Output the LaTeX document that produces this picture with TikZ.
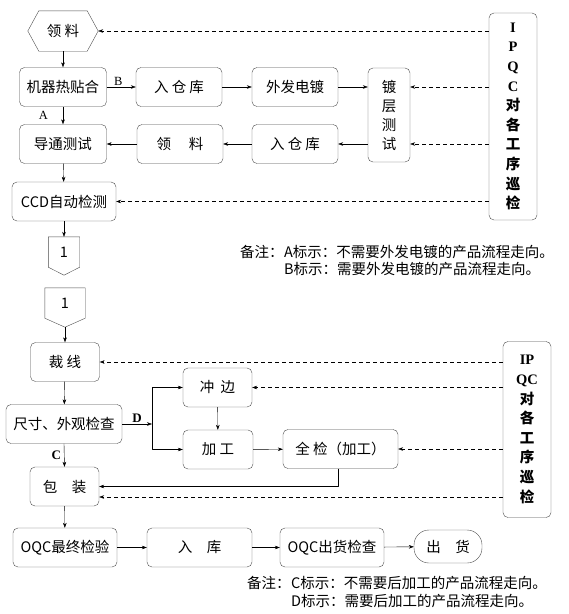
\documentclass[tikz,border=0pt]{standalone}
\usepackage{fontspec}
\newfontfamily\cjk{Noto Sans CJK SC}
\newfontfamily\serifl{Liberation Serif}
\usetikzlibrary{arrows.meta,calc}
\begin{document}
\begin{tikzpicture}[x=1pt, y=-1pt, font=\cjk\fontsize{14.5}{17}\selectfont, line join=round, >={Stealth[length=5pt,width=3.6pt]},
 box/.style={draw=black!70, rounded corners=5pt, inner sep=0pt, minimum height=39pt},
 qc/.style={->, dash pattern=on 4pt off 3pt},
 lbl/.style={font=\serifl\fontsize{12.5}{14}\selectfont, inner sep=1pt},
 lblb/.style={font=\serifl\bfseries\fontsize{13}{14}\selectfont, inner sep=1pt},
 vtext/.style={box, align=center, font=\cjk\bfseries\fontsize{14.5}{19.6}\selectfont}]
\useasboundingbox (0,0) rectangle (569,614);
% part 1
\node[inner sep=0, minimum width=70, minimum height=40] (lingliao) at (63,31) {领\ 料};
\draw[black!70] (lingliao.west) -- ($(lingliao.north west)+(11,0)$) -- ($(lingliao.north east)+(-11,0)$)
 -- (lingliao.east) -- ($(lingliao.south east)+(-11,0)$) -- ($(lingliao.south west)+(11,0)$) -- cycle;
\node[box, minimum width=87] (tiehe) at (63,87) {机器热贴合};
\node[box, minimum width=86] (rucang1) at (179,87) {入\ 仓\ 库};
\node[box, minimum width=86] (waifa) at (295,87) {外发电镀};
\node[box, minimum width=42, minimum height=94, align=center, font=\cjk\fontsize{14.5}{19}\selectfont] (duceng) at (389,115) {镀\\层\\测\\试};
\node[vtext, minimum width=48, minimum height=207] (ipqc1) at (513,116.5)
 {{\serifl I}\\{\serifl P}\\{\serifl Q}\\{\serifl C}\\对\\各\\工\\序\\巡\\检};
\node[box, minimum width=87] (daotong) at (63,144) {导通测试};
\node[box, minimum width=86] (lingliao2) at (180,144) {领\quad\ 料};
\node[box, minimum width=86] (rucang2) at (295,144) {入\ 仓\ 库};
\node[box, minimum width=104] (ccd) at (64,201.5) {CCD自动检测};
\node[inner sep=0, minimum width=31, minimum height=30] (conn1) at (64,252) {1};
\draw[black!70] (conn1.south west) -- (conn1.north west) -- (conn1.north east) -- (conn1.south east)
 -- ($(conn1.south)+(0,8)$) -- cycle;
\draw[->] (lingliao.south) -- (tiehe.north);
\draw[->] (tiehe.east) -- node[lbl, above, pos=0.4] {B} (rucang1.west);
\draw[->] (rucang1) -- (waifa);
\draw[->] (waifa.east) -- (waifa.east -| duceng.west);
\draw[->] (duceng.west |- rucang2) -- (rucang2.east);
\draw[->] (rucang2) -- (lingliao2);
\draw[->] (lingliao2) -- (daotong);
\draw[->] (tiehe.south) -- node[lbl, left, pos=0.5, xshift=-14pt] {A} (daotong.north);
\draw[->] (daotong) -- (ccd);
\draw[->] (ccd.south) -- (conn1.north);
\draw[qc] (ipqc1.west |- lingliao.east) -- (lingliao.east);
\draw[qc] (ipqc1.west |- waifa) -- (duceng.east |- waifa);
\draw[qc] (ipqc1.west |- rucang2) -- (duceng.east |- rucang2);
\draw[qc] (ipqc1.west |- ccd.east) -- (ccd.east);
\node[anchor=west, inner sep=0] (note1) at (240,252) {备注：};
\node[anchor=north west, inner sep=0, align=left, font=\cjk\fontsize{14.5}{17}\selectfont] (note1b) at (note1.north east)
 {A标示：不需要外发电镀的产品流程走向。\\B标示：需要外发电镀的产品流程走向。};
% part 2
\node[inner sep=0, minimum width=40, minimum height=30] (conn2) at (65,303) {1};
\draw[black!70] (conn2.south west) -- (conn2.north west) -- (conn2.north east) -- (conn2.south east)
 -- ($(conn2.south)+(0,9)$) -- cycle;
\node[box, minimum width=69] (caixian) at (65,362) {裁\ 线};
\node[box, minimum width=69] (chongbian) at (217.5,387.5) {冲\ \ 边};
\node[vtext, minimum width=48, minimum height=176] (ipqc2) at (527,429.5)
 {{\serifl IP}\\{\serifl QC}\\对\\各\\工\\序\\巡\\检};
\node[box, minimum width=116] (chicun) at (64,424) {尺寸、外观检查};
\node[box, minimum width=70] (jiagong) at (218,449.5) {加\ 工};
\node[box, minimum width=115] (quanjian) at (340.5,449) {全\ 检（加工）};
\node[box, minimum width=69] (baozhuang) at (64.5,486.5) {包\quad 装};
\node[box, minimum width=104] (oqc) at (65,547.5) {OQC最终检验};
\node[box, minimum width=105] (ruku) at (199.5,547.5) {入\quad 库};
\node[box, minimum width=104] (oqcout) at (332,547.5) {OQC出货检查};
\node[box, minimum width=68, minimum height=33, rounded corners=15pt] (chuhuo) at (448,546.5) {出\quad 货};
\coordinate (fork) at (152,424);
\draw[->] ($(conn2.south)+(0,9)$) -- (caixian.north);
\draw[->] (caixian) -- (chicun);
\draw[->] (chicun.east) -- node[lblb, above, pos=0.5] {D} (fork);
\draw[->] (fork) |- (chongbian.west);
\draw[->] (fork) |- (jiagong.west);
\draw[->] (chongbian) -- (jiagong);
\draw[->] (jiagong) -- (quanjian);
\draw[->] ([xshift=-2pt]quanjian.south) |- (baozhuang.east);
\draw[->] (chicun.south) -- node[lblb, left, xshift=-2pt] {C} (baozhuang.north);
\draw[->] (baozhuang) -- (oqc);
\draw[->] (oqc) -- (ruku);
\draw[->] (ruku) -- (oqcout);
\draw[->] (oqcout) -- (chuhuo);
\draw[qc] (ipqc2.west |- caixian.east) -- (caixian.east);
\draw[qc] (ipqc2.west |- chongbian.east) -- (chongbian.east);
\draw[qc] (ipqc2.west |- quanjian.east) -- (quanjian.east);
\draw[qc] (ipqc2.west |- 0,497) -- (baozhuang.east |- 0,497);
\node[anchor=west, inner sep=0] (note2) at (247,583) {备注：};
\node[anchor=north west, inner sep=0, align=left, font=\cjk\fontsize{14.5}{18}\selectfont] (note2b) at (note2.north east)
 {C标示：不需要后加工的产品流程走向。\\D标示：需要后加工的产品流程走向。};
\end{tikzpicture}
\end{document}
